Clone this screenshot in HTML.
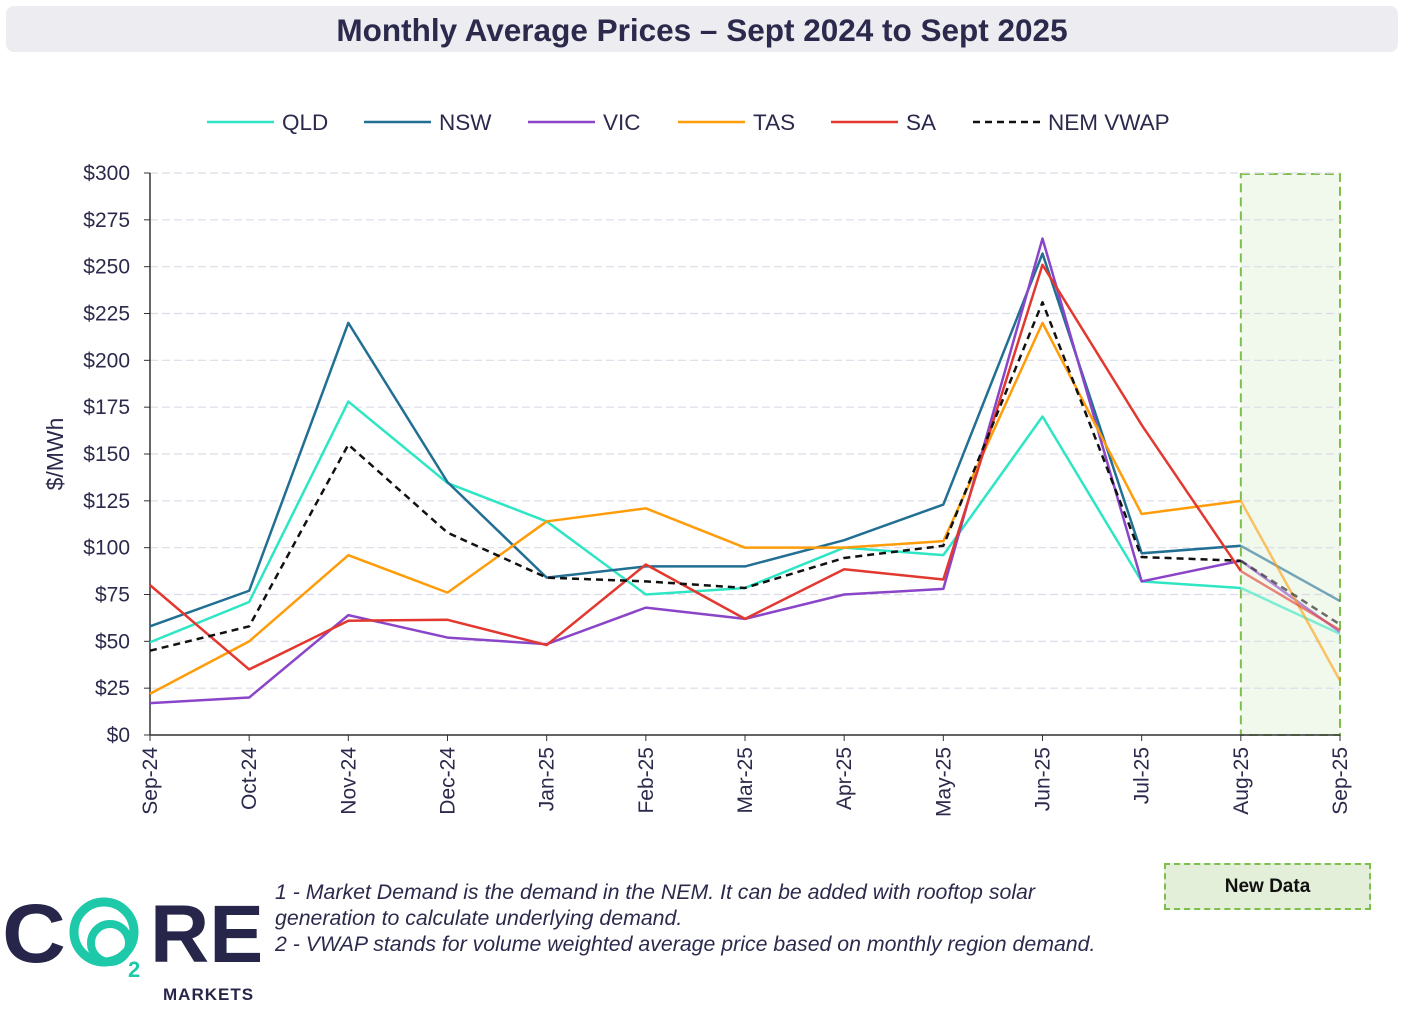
<!DOCTYPE html>
<html><head><meta charset="utf-8">
<style>
body{margin:0;width:1405px;height:1011px;background:#fff;font-family:"Liberation Sans",Arial,sans-serif;overflow:hidden;position:relative}
#title{position:absolute;left:6px;top:6px;width:1392px;height:46px;background:#ececf1;border-radius:8px;text-align:center;line-height:49px;font-weight:bold;font-size:31.5px;color:#2b2a4c}
#notes{position:absolute;left:275px;top:879px;font-style:italic;font-size:21.3px;line-height:26px;color:#2b2a4c;white-space:nowrap}
#newdata{position:absolute;left:1164px;top:863px;width:207px;height:47px;background:#e4efd9;border:2px dashed #7cc04b;box-sizing:border-box;text-align:center;line-height:44px;font-weight:bold;font-size:19px;color:#111}
</style></head><body>
<div id="title">Monthly Average Prices – Sept 2024 to Sept 2025</div>
<svg id="chart" width="1405" height="1011" style="position:absolute;left:0;top:0"></svg>
<div id="notes">1 - Market Demand is the demand in the NEM. It can be added with rooftop solar<br>generation to calculate underlying demand.<br>2 - VWAP stands for volume weighted average price based on monthly region demand.</div>
<div id="newdata">New Data</div>
<svg width="260" height="125" style="position:absolute;left:0;top:880px">
<text x="2" y="82" font-size="84" font-weight="bold" fill="#27264a" font-family="Liberation Sans" transform="scale(1.05,1)">C</text>
<circle cx="104" cy="52" r="30" fill="none" stroke="#1dc9a8" stroke-width="9"/>
<circle cx="110" cy="63" r="19" fill="none" stroke="#1dc9a8" stroke-width="8"/>
<text x="128" y="97" font-size="22" font-weight="bold" fill="#1dc9a8">2</text>
<text x="150" y="82" font-size="82" font-weight="bold" fill="#27264a" font-family="Liberation Sans">RE</text>
<text x="163" y="120" font-size="17" font-weight="bold" fill="#27264a" letter-spacing="1">MARKETS</text>
</svg>
<script>
const months=["Sep-24","Oct-24","Nov-24","Dec-24","Jan-25","Feb-25","Mar-25","Apr-25","May-25","Jun-25","Jul-25","Aug-25","Sep-25"];
const yTicks=[0,25,50,75,100,125,150,175,200,225,250,275,300];
const qld=[49.5,71,178,134.5,114,75,78.5,100,96,170,82,78.5,54];
const nsw=[58,77,220,135,84,90,90,104,123,257,97,101,71.5];
const vic=[17,20,64,52,48.5,68,62,75,78,265,82,93,55];
const tas=[22,50,96,76,114,121,100,100,103.5,220,118,125,29];
const sa=[80,35,61,61.5,48,91,62,88.5,83,251,165.5,87.5,56];
const nem=[45,58,155,108,84,82,78.5,94.5,101,231,95,93,59];
const newDataStart=11;
const svg=document.getElementById('chart');const NS='http://www.w3.org/2000/svg';
const X0=150,X1=1340,Y0=735,Y1=173;
const xs=i=>X0+(X1-X0)*i/(months.length-1);
const ys=v=>Y0-(Y0-Y1)*v/300;
function el(t,a,p){const e=document.createElementNS(NS,t);for(const k in a)e.setAttribute(k,a[k]);(p||svg).appendChild(e);return e;}
const sh=el('rect',{x:xs(newDataStart),y:Y1+1,width:xs(12)-xs(newDataStart),height:Y0-Y1-1,fill:'#f1f8ec',stroke:'#7cc04b','stroke-width':2,'stroke-dasharray':'9,5'});


yTicks.forEach(v=>{
 const g=el('line',{x1:X0,x2:X1,y1:ys(v),y2:ys(v),stroke:'#dcdce8','stroke-width':1.2,'stroke-dasharray':v?'8,4':''});
 
 
 const t=el('text',{x:X0-20,y:ys(v)+7,'text-anchor':'end','font-size':21,fill:'#2b2a4c'});t.textContent='$'+v;
 
 
 el('line',{x1:X0-6,x2:X0,y1:ys(v),y2:ys(v),stroke:'#333'});
});
el('line',{x1:X0,x2:X0,y1:Y1,y2:Y0,stroke:'#333','stroke-width':1.5});
el('line',{x1:X0,x2:X1,y1:Y0,y2:Y0,stroke:'#333','stroke-width':1.5});
months.forEach((m,i)=>{
 el('line',{x1:xs(i),x2:xs(i),y1:Y0,y2:Y0+6,stroke:'#333'});
 const t=el('text',{x:0,y:0,'text-anchor':'end','font-size':21,fill:'#2b2a4c',transform:`translate(${xs(i)+7},${Y0+12}) rotate(-90)`});t.textContent=m;
 
 
});
const yt=el('text',{x:0,y:0,'text-anchor':'middle','font-size':23,fill:'#2b2a4c',transform:'translate(63,454) rotate(-90)'});yt.textContent='$/MWh';


const series=[["QLD",qld,'#2ee6c4',''],["NSW",nsw,'#226f94',''],["VIC",vic,'#8a45c9',''],["TAS",tas,'#ff9c0a',''],["SA",sa,'#e2382f',''],["NEM VWAP",nem,'#111','7,5']];
const legX=[207,364,528,678,831,973];
series.forEach((s,k)=>{
 const [name,d,c,da]=s;
 const p1=d.slice(0,newDataStart+1).map((v,i)=>xs(i)+','+ys(v)).join(' ');
 const a=el('polyline',{points:p1,fill:'none',stroke:c,'stroke-width':2.5,'stroke-dasharray':da,'stroke-linejoin':'round'});
 
 
 const p2=d.slice(newDataStart).map((v,i)=>xs(i+newDataStart)+','+ys(v)).join(' ');
 const b=el('polyline',{points:p2,fill:'none',stroke:c,'stroke-width':2.5,'stroke-dasharray':da,opacity:0.6});
 
 
 const lx=legX[k];
 el('line',{x1:lx,x2:lx+67,y1:122,y2:122,stroke:c,'stroke-width':2.5,'stroke-dasharray':da});
 const t=el('text',{x:lx+75,y:130,'font-size':22.5,fill:'#2b2a4c'});t.textContent=name;
 
 
});
</script>
</body></html>
